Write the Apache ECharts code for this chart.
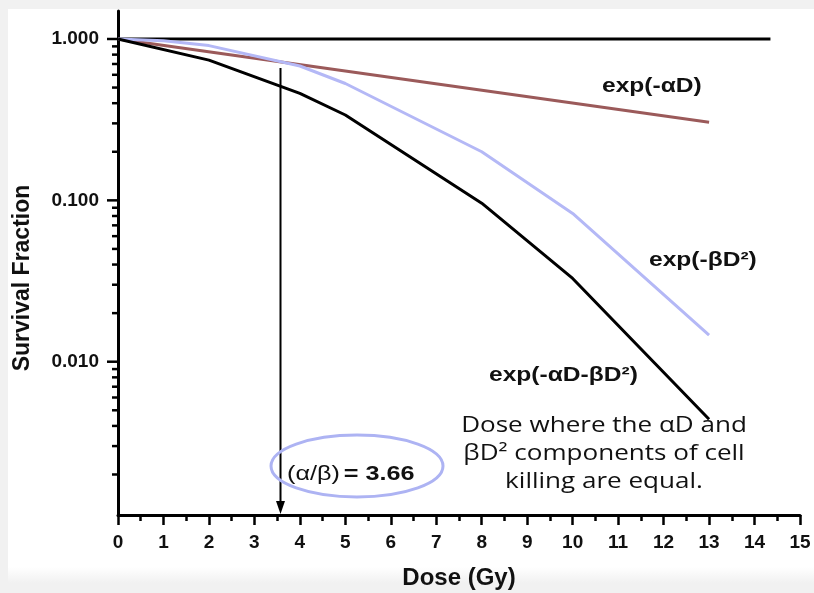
<!DOCTYPE html>
<html>
<head>
<meta charset="utf-8">
<script src="https://cdn.jsdelivr.net/npm/echarts@6/dist/echarts.min.js"></script>
<style>
  html, body { margin: 0; padding: 0; background: #f1f1f1; }
  #panel { position: absolute; left: 8px; top: 9px; width: 806px; height: 574px;
           background: linear-gradient(to bottom, #ffffff 0px, #ffffff 558px, #f1f1f1 574px); }
  #chart { position: absolute; left: 0; top: 0; width: 814px; height: 593px; }
</style>
</head>
<body>
<div id="panel"></div>
<div id="chart"></div>
<script>
// ---- data ----
const doseTicks = [0,1,2,3,4,5,6,7,8,9,10,11,12,13,14,15];
const unityDose = [0, 14.35];
const unityValue = [1, 1];
const alphaDose = [0, 13];
const alphaValue = [1, 0.305];
const betaDose = [0, 1, 2, 4, 5, 8, 10, 13];
const betaValue = [1, 0.975, 0.91, 0.68, 0.53, 0.20, 0.083, 0.0146];
const lqDose = [0, 2, 4, 5, 8, 10, 13];
const lqValue = [1, 0.74, 0.46, 0.338, 0.096, 0.0328, 0.0044];
const yMajorTicks = [1, 0.1, 0.01];
const yMinorTicks = [0.9,0.8,0.7,0.6,0.5,0.4,0.3,0.2,
                     0.09,0.08,0.07,0.06,0.05,0.04,0.03,0.02,
                     0.009,0.008,0.007,0.006,0.005,0.004,0.003,0.002];
const arrowDose = 3.56;
const arrowTop = 0.661;
const yMin = 0.001122, yMax = 1.491;

const zip = (a, b) => a.map((v, i) => [v, b[i]]);

const chart = echarts.init(document.getElementById('chart'), null, {renderer: 'canvas'});

const tickData = yMajorTicks.map(v => [0, v, 1]).concat(yMinorTicks.map(v => [0, v, 0]));

const option = {
  backgroundColor: 'transparent',
  animation: false,
  grid: { left: 118, right: 14, top: 11, bottom: 78, containLabel: false, outerBoundsMode: 'none' },
  xAxis: {
    type: 'value', min: 0, max: 15, interval: 1,
    name: 'Dose (Gy)', nameLocation: 'middle', nameGap: 51,
    nameTextStyle: { fontFamily: 'Liberation Sans', fontWeight: 'bold', fontSize: 24, color: '#111' },
    axisLine: { show: true, onZero: false, lineStyle: { color: '#000', width: 3 } },
    axisTick: { show: true, inside: false, length: 10, lineStyle: { color: '#000', width: 2.5 } },
    minorTick: { show: true, splitNumber: 2, length: 6, lineStyle: { color: '#000', width: 2.5 } },
    splitLine: { show: false },
    axisLabel: { margin: 18, fontFamily: 'Liberation Sans', fontWeight: 'bold', fontSize: 19, color: '#111',
                 formatter: v => String(v) },
    data: doseTicks
  },
  yAxis: {
    type: 'log', logBase: 10, min: yMin, max: yMax,
    name: 'Survival Fraction', nameLocation: 'middle', nameGap: 84, nameRotate: 90,
    nameTextStyle: { fontFamily: 'Liberation Sans', fontWeight: 'bold', fontSize: 23, color: '#111',
                     padding: [0, 30, 0, 0] },
    axisLine: { show: true, onZero: false, lineStyle: { color: '#000', width: 3 } },
    axisTick: { show: false },
    minorTick: { show: false },
    splitLine: { show: false },
    axisLabel: { margin: 19, fontFamily: 'Liberation Sans', fontWeight: 'bold', fontSize: 19, color: '#111',
      formatter: function (v) {
        const l = Math.log10(v);
        return Math.abs(l - Math.round(l)) < 1e-6 ? v.toFixed(3) : '';
      } }
  },
  series: [
    {
      type: 'custom', name: 'yticks', clip: false, silent: true, z: 5,
      data: tickData,
      renderItem: function (params, api) {
        const p = api.coord([api.value(0), api.value(1)]);
        const len = api.value(2) === 1 ? 11 : 6;
        return { type: 'line', shape: { x1: p[0] - len, y1: p[1], x2: p[0], y2: p[1] },
                 style: { stroke: '#000', lineWidth: 2.5 } };
      }
    },
    {
      type: 'line', name: 'unity', data: zip(unityDose, unityValue), symbol: 'none', z: 3,
      lineStyle: { color: '#000', width: 3 }
    },
    {
      type: 'line', name: 'exp(-αD)', data: zip(alphaDose, alphaValue), symbol: 'none', z: 3,
      lineStyle: { color: '#9b5a5a', width: 3 }
    },
    {
      type: 'line', name: 'exp(-βD²)', data: zip(betaDose, betaValue), symbol: 'none', z: 3,
      lineStyle: { color: '#b4b8f6', width: 3 }
    },
    {
      type: 'line', name: 'exp(-αD-βD²)', data: zip(lqDose, lqValue), symbol: 'none', z: 4,
      lineStyle: { color: '#000', width: 3 }
    },
    {
      type: 'custom', name: 'arrow', clip: false, silent: true, z: 6,
      data: [[arrowDose, arrowTop, yMin]],
      renderItem: function (params, api) {
        const top = api.coord([api.value(0), api.value(1)]);
        const bot = api.coord([api.value(0), api.value(2)]);
        const x = Math.round(top[0]) + 0.5;
        const by = bot[1] - 1;
        return { type: 'group', children: [
          { type: 'line', shape: { x1: x, y1: top[1], x2: x, y2: by - 10 },
            style: { stroke: '#000', lineWidth: 2 } },
          { type: 'polygon', shape: { points: [[x - 4.5, by - 13], [x + 4.5, by - 13], [x, by]] },
            style: { fill: '#000' } }
        ] };
      }
    }
  ],
  graphic: [
    { type: 'ellipse', z: 10, shape: { cx: 357, cy: 466, rx: 86, ry: 31 },
      style: { fill: 'none', stroke: '#adb3f3', lineWidth: 3 } },
    { type: 'text', z: 11, x: 287, y: 464, scaleX: 1.2,
      style: { text: '{a|(α/β)} {b|= 3.66}', rich: {
        a: { fontFamily: 'Liberation Sans', fontSize: 21, fontWeight: 'normal', fill: '#111' },
        b: { fontFamily: 'Liberation Sans', fontSize: 21, fontWeight: 'bold', fill: '#111' } } } },
    { type: 'text', z: 11, x: 602, y: 76, scaleX: 1.17,
      style: { text: 'exp(-αD)', fontFamily: 'Liberation Sans', fontSize: 21, fontWeight: 'bold', fill: '#111' } },
    { type: 'text', z: 11, x: 649, y: 250, scaleX: 1.17,
      style: { text: 'exp(-βD²)', fontFamily: 'Liberation Sans', fontSize: 21, fontWeight: 'bold', fill: '#111' } },
    { type: 'text', z: 11, x: 489, y: 365, scaleX: 1.17,
      style: { text: 'exp(-αD-βD²)', fontFamily: 'Liberation Sans', fontSize: 21, fontWeight: 'bold', fill: '#111' } },
    { type: 'text', z: 11, x: 604, y: 412, scaleX: 1.24,
      style: { text: 'Dose where the αD and\nβD² components of cell\nkilling are equal.',
               fontFamily: 'Open Sans', fontSize: 21, lineHeight: 28, fill: '#111', align: 'center', verticalAlign: 'top' } }
  ]
};
chart.setOption(option);
</script>
</body>
</html>
